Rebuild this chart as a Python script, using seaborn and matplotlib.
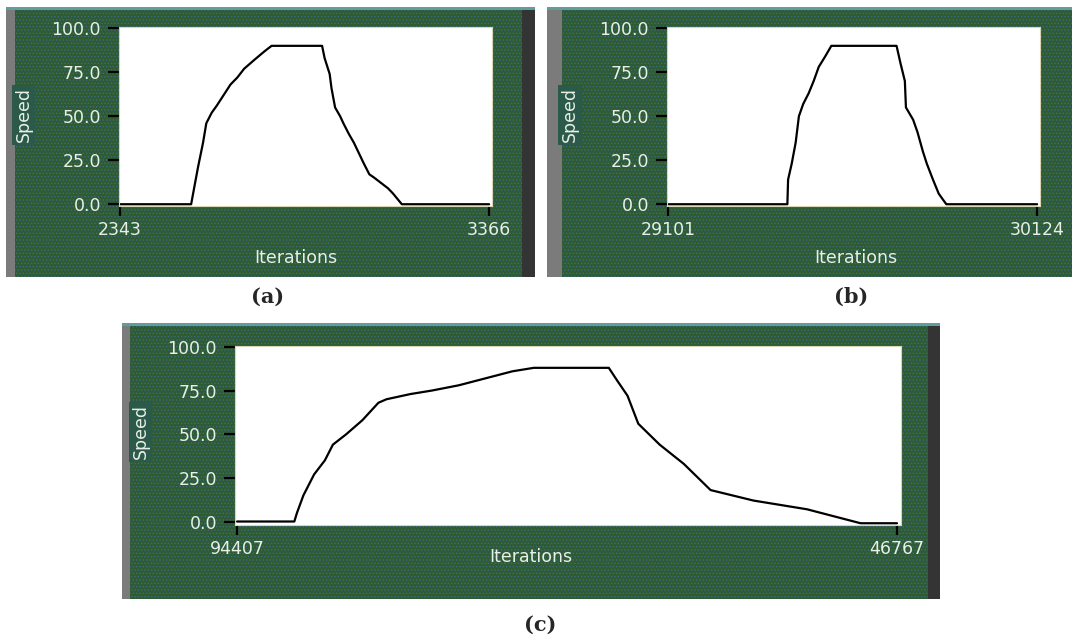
import numpy as np
import pandas as pd
import seaborn as sns
import matplotlib.pyplot as plt
from matplotlib.patches import Rectangle

# speed profiles
iter_a = [2343, 2540, 2549, 2559, 2573, 2582, 2597, 2611, 2630, 2649, 2668, 2687, 2715, 2744, 2763,
          2903, 2910, 2924, 2929, 2939, 2953, 2962, 2977, 2991, 3005, 3019, 3034, 3048, 3067, 3086, 3100, 3124, 3366]
speed_a = [0, 0, 10, 21, 35, 46, 52, 56, 62, 68, 72, 77, 82, 87, 90,
           90, 83, 74, 66, 55, 50, 46, 40, 35, 29, 23, 17, 15, 12, 9, 6, 0, 0]

iter_b = [29101, 29431, 29433, 29443, 29454, 29463, 29475, 29490, 29504, 29518, 29536, 29553,
          29734, 29745, 29757, 29760, 29780, 29792, 29807, 29818, 29835, 29851, 29872, 30124]
speed_b = [0, 0, 14, 23, 35, 50, 57, 63, 70, 78, 84, 90,
           90, 80, 70, 55, 48, 41, 30, 23, 14, 6, 0, 0]

iter_c = [94407, 90269, 90076, 89612, 88839, 88065, 87485, 86518, 85358, 84198, 83618, 81878, 80331, 78398,
          76464, 74531, 72984, 67570, 66990, 66217, 65443, 63896, 62156, 60223, 57129, 53262, 49395, 46767]
speed_c = [0, 0, 5, 15, 27, 35, 44, 50, 58, 68, 70, 73, 75, 78,
           82, 86, 88, 88, 81, 72, 56, 44, 33, 18, 12, 7, -1, -1]

xticks_a = [2343, 3366]
xticks_b = [29101, 30124]
xticks_c = [94407, 46767]
yticks = [0, 25, 50, 75, 100]
panel_labels = ['(a)', '(b)', '(c)']

W, H = 1072, 639
green = '#2f5b30'
dots = '#3c6a8c'
txt = '#e8efe6'

sns.set_style('white')
plt.rcParams['font.family'] = ['DejaVu Sans']
plt.rcParams['hatch.linewidth'] = 0.6

fig = plt.figure(figsize=(W / 100, H / 100), dpi=100)
fig.patch.set_facecolor('white')


def px_box(x0, y0, x1, y1):
    # pixel box (top-left origin) -> figure fraction [l, b, w, h]
    return [x0 / W, 1 - y1 / H, (x1 - x0) / W, (y1 - y0) / H]


def frame(x0, y0, x1, y1, gray_w, dark_w):
    l, b, w, h = px_box(x0, y0, x1, y1)
    fig.add_artist(Rectangle((l, b), w, h, transform=fig.transFigure, facecolor=green,
                             edgecolor=dots, hatch='.....', lw=0, zorder=-5))
    l, b, w, h = px_box(x0, y0, x0 + gray_w, y1)
    fig.add_artist(Rectangle((l, b), w, h, transform=fig.transFigure, facecolor='#7b7b7b',
                             lw=0, zorder=-4))
    if dark_w:
        l, b, w, h = px_box(x1 - dark_w, y0, x1, y1)
        fig.add_artist(Rectangle((l, b), w, h, transform=fig.transFigure, facecolor='#343434',
                                 lw=0, zorder=-4))
    l, b, w, h = px_box(x0, y0, x1, y0 + 3)
    fig.add_artist(Rectangle((l, b), w, h, transform=fig.transFigure, facecolor='#5f9e9a',
                             lw=0, zorder=-4))


frame(6, 7, 535, 277, 9, 13)
frame(547, 7, 1072, 277, 15, 0)
frame(122, 323, 940, 599, 8, 12)


def panel(box, xs, ys, xlim, ylim, xticks, xlab_x, xlab_y, speed_x, speed_y):
    ax = fig.add_axes(px_box(*box))
    df = pd.DataFrame({'Iterations': xs, 'Speed': ys})
    sns.lineplot(data=df, x='Iterations', y='Speed', ax=ax, color='black', lw=1.6,
                 estimator=None, sort=False)
    ax.set_facecolor('white')
    ax.set_xlim(*xlim)
    ax.set_ylim(*ylim)
    ax.set_yticks(yticks)
    ax.set_yticklabels([f'{v:.1f}' for v in yticks])
    ax.set_xticks(xticks)
    ax.set_xticklabels([str(v) for v in xticks])
    ax.tick_params(axis='y', direction='out', length=8, width=1.6, color='black',
                   labelcolor=txt, labelsize=12.5, pad=5, left=True)
    ax.tick_params(axis='x', direction='out', length=7, width=1.6, color='black',
                   labelcolor=txt, labelsize=12.5, pad=4, bottom=True)
    for s in ax.spines.values():
        s.set_color('#d9d6b8')
        s.set_linewidth(0.8)
    ax.set_xlabel('Iterations', color=txt, fontsize=12.5)
    ax.xaxis.set_label_coords(xlab_x, xlab_y)
    ax.set_ylabel('')
    ax.text(speed_x, speed_y, 'Speed', transform=ax.transAxes, rotation=90, color=txt,
            fontsize=12.5, ha='center', va='center',
            bbox=dict(boxstyle='square,pad=0.15', facecolor='#2b5a4a', lw=0))
    return ax


panel((119, 27, 492, 206), iter_a, speed_a, (2340, 3374), (-1, 100.7), xticks_a,
      0.474, -0.24, -0.255, 0.51)
panel((667, 27, 1040, 206), iter_b, speed_b, (29097, 30132), (-1, 100.7), xticks_b,
      0.507, -0.24, -0.26, 0.51)
panel((235, 346, 901, 525), iter_c, speed_c, (94551, 46478), (-2, 100.5), xticks_c,
      0.444, -0.13, -0.142, 0.52)

label_pos = [(268, 297), (851, 297), (540, 625)]
for lab, (x, y) in zip(panel_labels, label_pos):
    fig.text(x / W, 1 - y / H, lab, ha='center', va='center', fontsize=15,
             fontweight='bold', family=['DejaVu Serif'])

fig.savefig('out.png', dpi=100)
